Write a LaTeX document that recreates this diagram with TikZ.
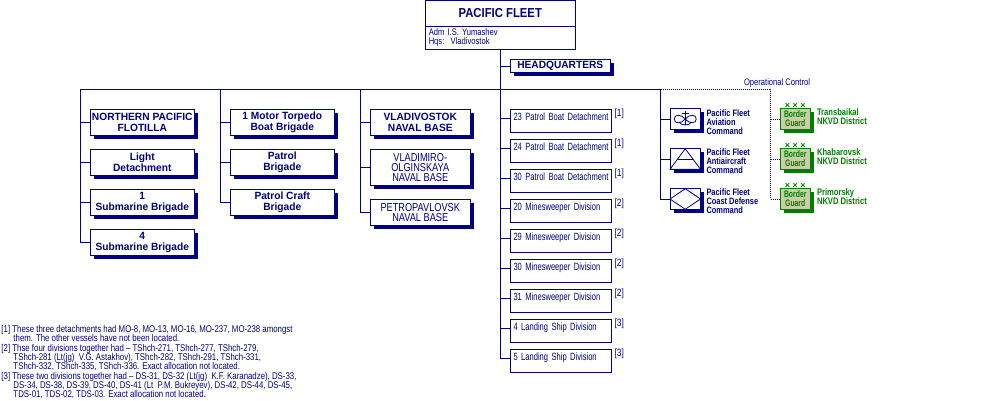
\documentclass[tikz,border=0pt]{standalone}
\usepackage{fontspec}
\setmainfont{Liberation Sans}
\newfontfamily\narrowfont[FakeStretch=0.80]{Liberation Sans}
\newfontfamily\slimfont[FakeStretch=0.72,WordSpace=0.7]{Liberation Sans}
\newfontfamily\titlefont[FakeStretch=0.87]{Liberation Sans}
\newfontfamily\widefont[FakeStretch=0.97]{Liberation Sans}
\usetikzlibrary{positioning,shadows,calc}
\definecolor{Navy}{HTML}{000080}
\definecolor{Guard}{HTML}{008000}
\definecolor{Khaki}{HTML}{CCCCA8}

\begin{document}
\begin{tikzpicture}[
  x=1pt,y=-1pt,
  line width=1pt,
  boxshadow/.style={drop shadow={shadow xshift=3.5pt,shadow yshift=-3.5pt,fill=#1,opacity=1}},
  unit/.style={draw=Navy,fill=white,boxshadow=Navy,outer sep=0pt,inner sep=0pt,minimum height=26.5pt,align=center,text=Navy,font=\widefont\bfseries\fontsize{10.5}{10.5}\selectfont},
  plain/.style={unit,font=\narrowfont\fontsize{11.5}{10}\selectfont},
  detach/.style={draw=Navy,fill=white,outer sep=0pt,inner ysep=0pt,inner xsep=3.5pt,text width=94pt,align=left,text height=11.5pt,text depth=11.5pt,text=Navy,font=\slimfont\fontsize{10.5}{11}\selectfont},
  fn/.style={inner sep=0pt,anchor=north west,text=Navy,font=\narrowfont\fontsize{10.5}{11}\selectfont},
  symbol/.style={draw=Navy,fill=white,boxshadow=Navy,outer sep=0pt,inner sep=0pt,minimum width=30.5pt,minimum height=20.5pt},
  side/.style={inner sep=0pt,align=left,text=Navy,font=\narrowfont\bfseries\fontsize{9.3}{9}\selectfont},
  guard/.style={draw=Guard,fill=Khaki,boxshadow=Guard,outer sep=0pt,inner sep=0pt,minimum width=30.5pt,minimum height=20.5pt,align=center,text=Guard,font=\slimfont\bfseries\fontsize{9.5}{9}\selectfont},
  guardtext/.style={inner sep=0pt,align=left,text=Guard,font=\narrowfont\bfseries\fontsize{9.5}{9}\selectfont},
  xxx/.style={inner sep=0pt,text=Guard,font=\bfseries\fontsize{9}{9}\selectfont},
  link/.style={draw=Navy},
  opctl/.style={draw=Navy,densely dotted},
  glyph/.style={draw=Navy,line width=0.8pt}
]
\useasboundingbox (0,0) rectangle (1000,400);
% commander
\node[draw=Navy,fill=white,outer sep=0pt,inner sep=0pt,minimum width=150pt,minimum height=26pt,text=Navy,font=\titlefont\bfseries\fontsize{13}{13}\selectfont] (pf) at (500.25,13.25) {PACIFIC FLEET};
\node[draw=Navy,fill=white,outer sep=0pt,inner xsep=3.5pt,inner ysep=0pt,below=0pt of pf,text width=143pt,minimum height=23pt,align=left,text=Navy,font=\narrowfont\fontsize{9.5}{9}\selectfont] (cmd) {\raisebox{-1pt}{Adm\ I.S. Yumashev}\\\raisebox{-1pt}{Hqs:\ \ Vladivostok}};
\node[unit,minimum width=100.5pt,minimum height=13.5pt,anchor=west] (hq) at (510,66) {HEADQUARTERS};
% flotilla column
\node[unit,minimum width=104.5pt,anchor=north west] (npf) at (90,109) {NORTHERN PACIFIC\\FLOTILLA};
\node[unit,minimum width=104.5pt,below=13.5pt of npf] (ld) {Light\\Detachment};
\node[unit,minimum width=104.5pt,below=13.5pt of ld] (sb1) {1\\Submarine Brigade};
\node[unit,minimum width=104.5pt,below=13.5pt of sb1] (sb4) {4\\Submarine Brigade};
% brigade column
\node[unit,minimum width=104.5pt,anchor=north west] (mt) at (230,109) {1 Motor Torpedo\\Boat Brigade};
\node[unit,minimum width=104.5pt,below=13.5pt of mt] (pb) {Patrol\\Brigade};
\node[unit,minimum width=104.5pt,below=13.5pt of pb] (pc) {Patrol Craft\\Brigade};
% naval bases
\node[unit,minimum width=100.5pt,anchor=north west] (vl) at (370,109) {VLADIVOSTOK\\NAVAL BASE};
\node[plain,minimum width=100.5pt,minimum height=36.5pt,below=13.5pt of vl] (vo) {VLADIMIRO-\\OLGINSKAYA\\NAVAL BASE};
\node[plain,minimum width=100.5pt,below=13.5pt of vo] (pv) {PETROPAVLOVSK\\NAVAL BASE};
% detachments
\node[detach,anchor=north west] (d23) at (510,109) {\mbox{23 Patrol Boat Detachment}};
\node[detach,below=7pt of d23] (d24) {\mbox{24 Patrol Boat Detachment}};
\node[detach,below=7pt of d24] (d30) {\mbox{30 Patrol Boat Detachment}};
\node[detach,below=7pt of d30] (m20) {20 Minesweeper Division};
\node[detach,below=7pt of m20] (m29) {29 Minesweeper Division};
\node[detach,below=7pt of m29] (m30) {30 Minesweeper Division};
\node[detach,below=7pt of m30] (m31) {31 Minesweeper Division};
\node[detach,below=7pt of m31] (l4) {4 Landing Ship Division};
\node[detach,below=7pt of l4] (l5) {5 Landing Ship Division};
\foreach \n/\t in {d23/1,d24/1,d30/1,m20/2,m29/2,m30/2,m31/2,l4/3,l5/3}
  \node[fn] (f\n) at ([xshift=3pt,yshift=0.5pt]\n.north east) {[\t]};
% air, antiaircraft, coast
\node[symbol,anchor=west] (av) at (670,119) {};
\node[symbol,anchor=west] (aa) at (670,159) {};
\node[symbol,anchor=west] (cd) at (670,199) {};
\node[side,right=5.5pt of av,yshift=-3pt] (avt) {Pacific Fleet\\Aviation\\Command};
\node[side,right=5.5pt of aa,yshift=-2.5pt] (aat) {Pacific Fleet\\Antiaircraft\\Command};
\node[side,right=5.5pt of cd,yshift=-2.5pt] (cdt) {Pacific Fleet\\Coast Defense\\Command};
\draw[glyph] (av.center) ++(0,-8) -- ++(0,14) (av.center) ++(-3.5,-5.5) -- ++(7,0);
\draw[glyph] (av.center) ++(-6,3) .. controls +(1,4) and +(-1,4) .. ++(12,0);
\draw[glyph] (av.center) .. controls +(-4,-5) and +(0,-5) .. ++(-11,0) .. controls +(0,5) and +(-4,5) .. ++(11,0) .. controls +(4,-5) and +(0,-5) .. ++(11,0) .. controls +(0,5) and +(4,5) .. ++(-11,0);
\draw[glyph] (aa.north) -- (aa.south west) -- (aa.south east) -- cycle;
\draw[glyph] ($(aa.north)!0.5!(aa.south west)$) -- ($(aa.north)!0.5!(aa.south east)$);
\draw[glyph] (cd.north) -- (cd.east) -- (cd.south) -- (cd.west) -- cycle;
% border guards
\node[guard,anchor=west] (tb) at (780,119) {Border\\Guard};
\node[guard,anchor=west] (kh) at (780,159) {Border\\Guard};
\node[guard,anchor=west] (pr) at (780,199) {Border\\Guard};
\foreach \n in {tb,kh,pr}
  \node[xxx,above=-0.5pt of \n] (x\n) {× × ×};
\node[guardtext,right=6pt of tb,yshift=2pt] (tbt) {Transbaikal\\NKVD District};
\node[guardtext,right=6pt of kh,yshift=2pt] (kht) {Khabarovsk\\NKVD District};
\node[guardtext,right=6pt of pr,yshift=2pt] (prt) {Primorsky\\NKVD District};
\coordinate (busl) at (80.5,89);
\coordinate (busb) at (220.5,89);
\coordinate (busn) at (360.5,89);
\coordinate (busm) at (500.5,89);
\coordinate (busr) at (660.5,89);
\coordinate (busg) at (770.5,89);
\node[inner sep=0pt,text=Navy,font=\narrowfont\fontsize{9.5}{9}\selectfont] (op) at (777,83) {Operational Control};
% connectors
\draw[link] (busl) -- (busr);
\draw[opctl] (busr) -- (busg);
\draw[link] (cmd.south -| busm) -- ([yshift=2pt]l5.west -| busm);
\draw[link] (hq.west -| busm) -- (hq.west);
\foreach \n in {npf,ld,sb1,sb4} \draw[link] (busl) |- (\n.west);
\foreach \n in {mt,pb,pc} \draw[link] (busb) |- (\n.west);
\foreach \n in {vl,vo,pv} \draw[link] (busn) |- (\n.west);
\foreach \n in {d23,d24,d30,m20,m29,m30,m31,l4,l5} \draw[link] ([yshift=2pt]\n.west -| busm) -- ([yshift=2pt]\n.west);
\foreach \n in {av,aa,cd} \draw[link] (busr) |- (\n.west);
\foreach \n in {tb,kh,pr} \draw[opctl] (busg) |- (\n.west);
% notes
\node[anchor=north west,inner sep=0pt,align=left,text=Navy,font=\narrowfont\fontsize{9.8}{9.3}\selectfont] (notes) at (1,325) {{[}1] These three detachments had MO-8, MO-13, MO-16, MO-237, MO-238 amongst\\
\hspace*{12pt}them. The other vessels have not been located.\\
{[}2] Thse four divisions together had – TShch-271, TShch-277, TShch-279,\\
\hspace*{12pt}TShch-281 (Lt(jg)\ \ V.G. Astakhov), TShch-282, TShch-291, TShch-331,\\
\hspace*{12pt}TShch-332, TShch-335, TShch-336. Exact allocation not located.\\
{[}3] These two divisions together had – DS-31, DS-32 (Lt(jg)\ \ K.F. Karanadze), DS-33,\\
\hspace*{12pt}DS-34, DS-38, DS-39, DS-40, DS-41 (Lt\ \ P.M. Bukreyev), DS-42, DS-44, DS-45,\\
\hspace*{12pt}TDS-01, TDS-02, TDS-03. Exact allocation not located.};
\end{tikzpicture}
\end{document}
